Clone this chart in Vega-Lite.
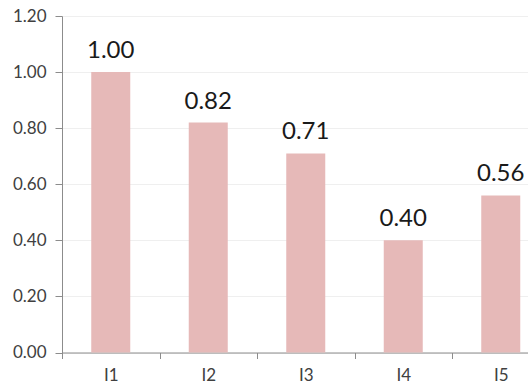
{
  "$schema": "https://vega.github.io/schema/vega-lite/v6.json",
  "width": 466,
  "height": 336.5,
  "autosize": {"type": "none"},
  "padding": {"left": 62, "top": 16, "right": 0, "bottom": 39.5},
  "background": "white",
  "config": {
    "view": {"stroke": null},
    "font": "Lato"
  },
  "data": {
    "values": [
      {"item": "I1", "score": 1.00},
      {"item": "I2", "score": 0.82},
      {"item": "I3", "score": 0.71},
      {"item": "I4", "score": 0.40},
      {"item": "I5", "score": 0.56}
    ]
  },
  "encoding": {
    "x": {
      "field": "item",
      "type": "nominal",
      "sort": null,
      "scale": {"range": [0, 487.5], "paddingInner": 0, "paddingOuter": 0},
      "axis": {
        "title": null,
        "labelAngle": 0,
        "labelFontSize": 17,
        "labelColor": "#404040",
        "labelPadding": 9,
        "tickBand": "extent",
        "tickSize": 6,
        "tickColor": "#8c8c8c",
        "domainColor": "#8c8c8c",
        "grid": false
      }
    },
    "y": {
      "field": "score",
      "type": "quantitative",
      "scale": {"domain": [0, 1.2], "nice": false},
      "axis": {
        "title": null,
        "values": [0, 0.2, 0.4, 0.6, 0.8, 1.0, 1.2],
        "format": ".2f",
        "labelFontSize": 17,
        "labelColor": "#404040",
        "labelPadding": 9,
        "tickSize": 7,
        "tickColor": "#8c8c8c",
        "domainColor": "#8c8c8c",
        "grid": true,
        "gridColor": "#efefef",
        "gridWidth": 1
      }
    }
  },
  "layer": [
    {
      "mark": {"type": "bar", "color": "#E6B9B8", "width": {"band": 0.4}}
    },
    {
      "mark": {"type": "text", "baseline": "alphabetic", "dy": -14, "fontSize": 24, "color": "#1a1a1a"},
      "encoding": {
        "text": {"field": "score", "type": "quantitative", "format": ".2f"}
      }
    }
  ]
}
